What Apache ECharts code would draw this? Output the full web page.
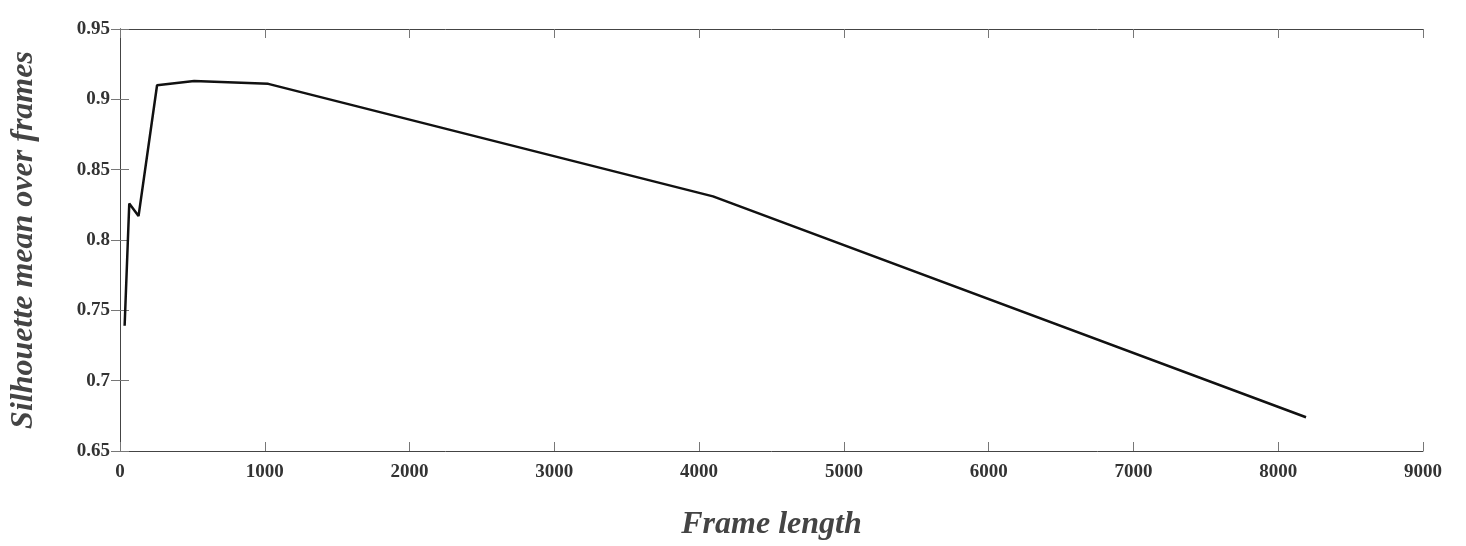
<!DOCTYPE html><html><head><meta charset="utf-8"><script src="https://cdn.jsdelivr.net/npm/echarts@6/dist/echarts.min.js"></script></head><body style="margin:0"><div id="c" style="width:1466px;height:546px"></div><script>
const frameLengths=[32,64,128,256,512,1024,4096,8192];
const silhouette=[0.739,0.826,0.817,0.910,0.913,0.911,0.831,0.674];
const font='Liberation Serif';
const axCommon={axisLine:{lineStyle:{color:'#444'}},axisTick:{inside:true,length:9,lineStyle:{color:'#777'}},splitLine:{show:false}};
const c=echarts.init(document.getElementById('c'));
c.setOption({animation:false,
grid:{left:117,right:43,top:29,bottom:93},
xAxis:[{type:'value',min:0,max:9000,interval:1000,...axCommon,
 axisLabel:{fontFamily:font,fontWeight:'bold',fontSize:19,color:'#333',margin:12,formatter:v=>String(v)},
 name:'Frame length',nameLocation:'middle',nameGap:58,nameTextStyle:{fontFamily:font,fontWeight:'bold',fontStyle:'italic',fontSize:32,color:'#444'}},
 {type:'value',position:'top',min:0,max:9000,interval:1000,...axCommon,axisLabel:{show:false}}],
yAxis:[{type:'value',min:0.65,max:0.95,interval:0.05,...axCommon,
 axisLabel:{fontFamily:font,fontWeight:'bold',fontSize:19,color:'#333',margin:10,formatter:v=>String(+v.toFixed(2))},
 name:'Silhouette mean over frames',nameLocation:'middle',nameGap:80,nameTextStyle:{fontFamily:font,fontWeight:'bold',fontStyle:'italic',fontSize:32,color:'#444'}},
 {type:'value',position:'right',min:0.65,max:0.95,interval:0.05,...axCommon,axisLabel:{show:false}}],
series:[{type:'line',data:frameLengths.map((x,i)=>[x,silhouette[i]]),showSymbol:false,lineStyle:{color:'#111',width:2.5}}]
});
</script></body></html>
